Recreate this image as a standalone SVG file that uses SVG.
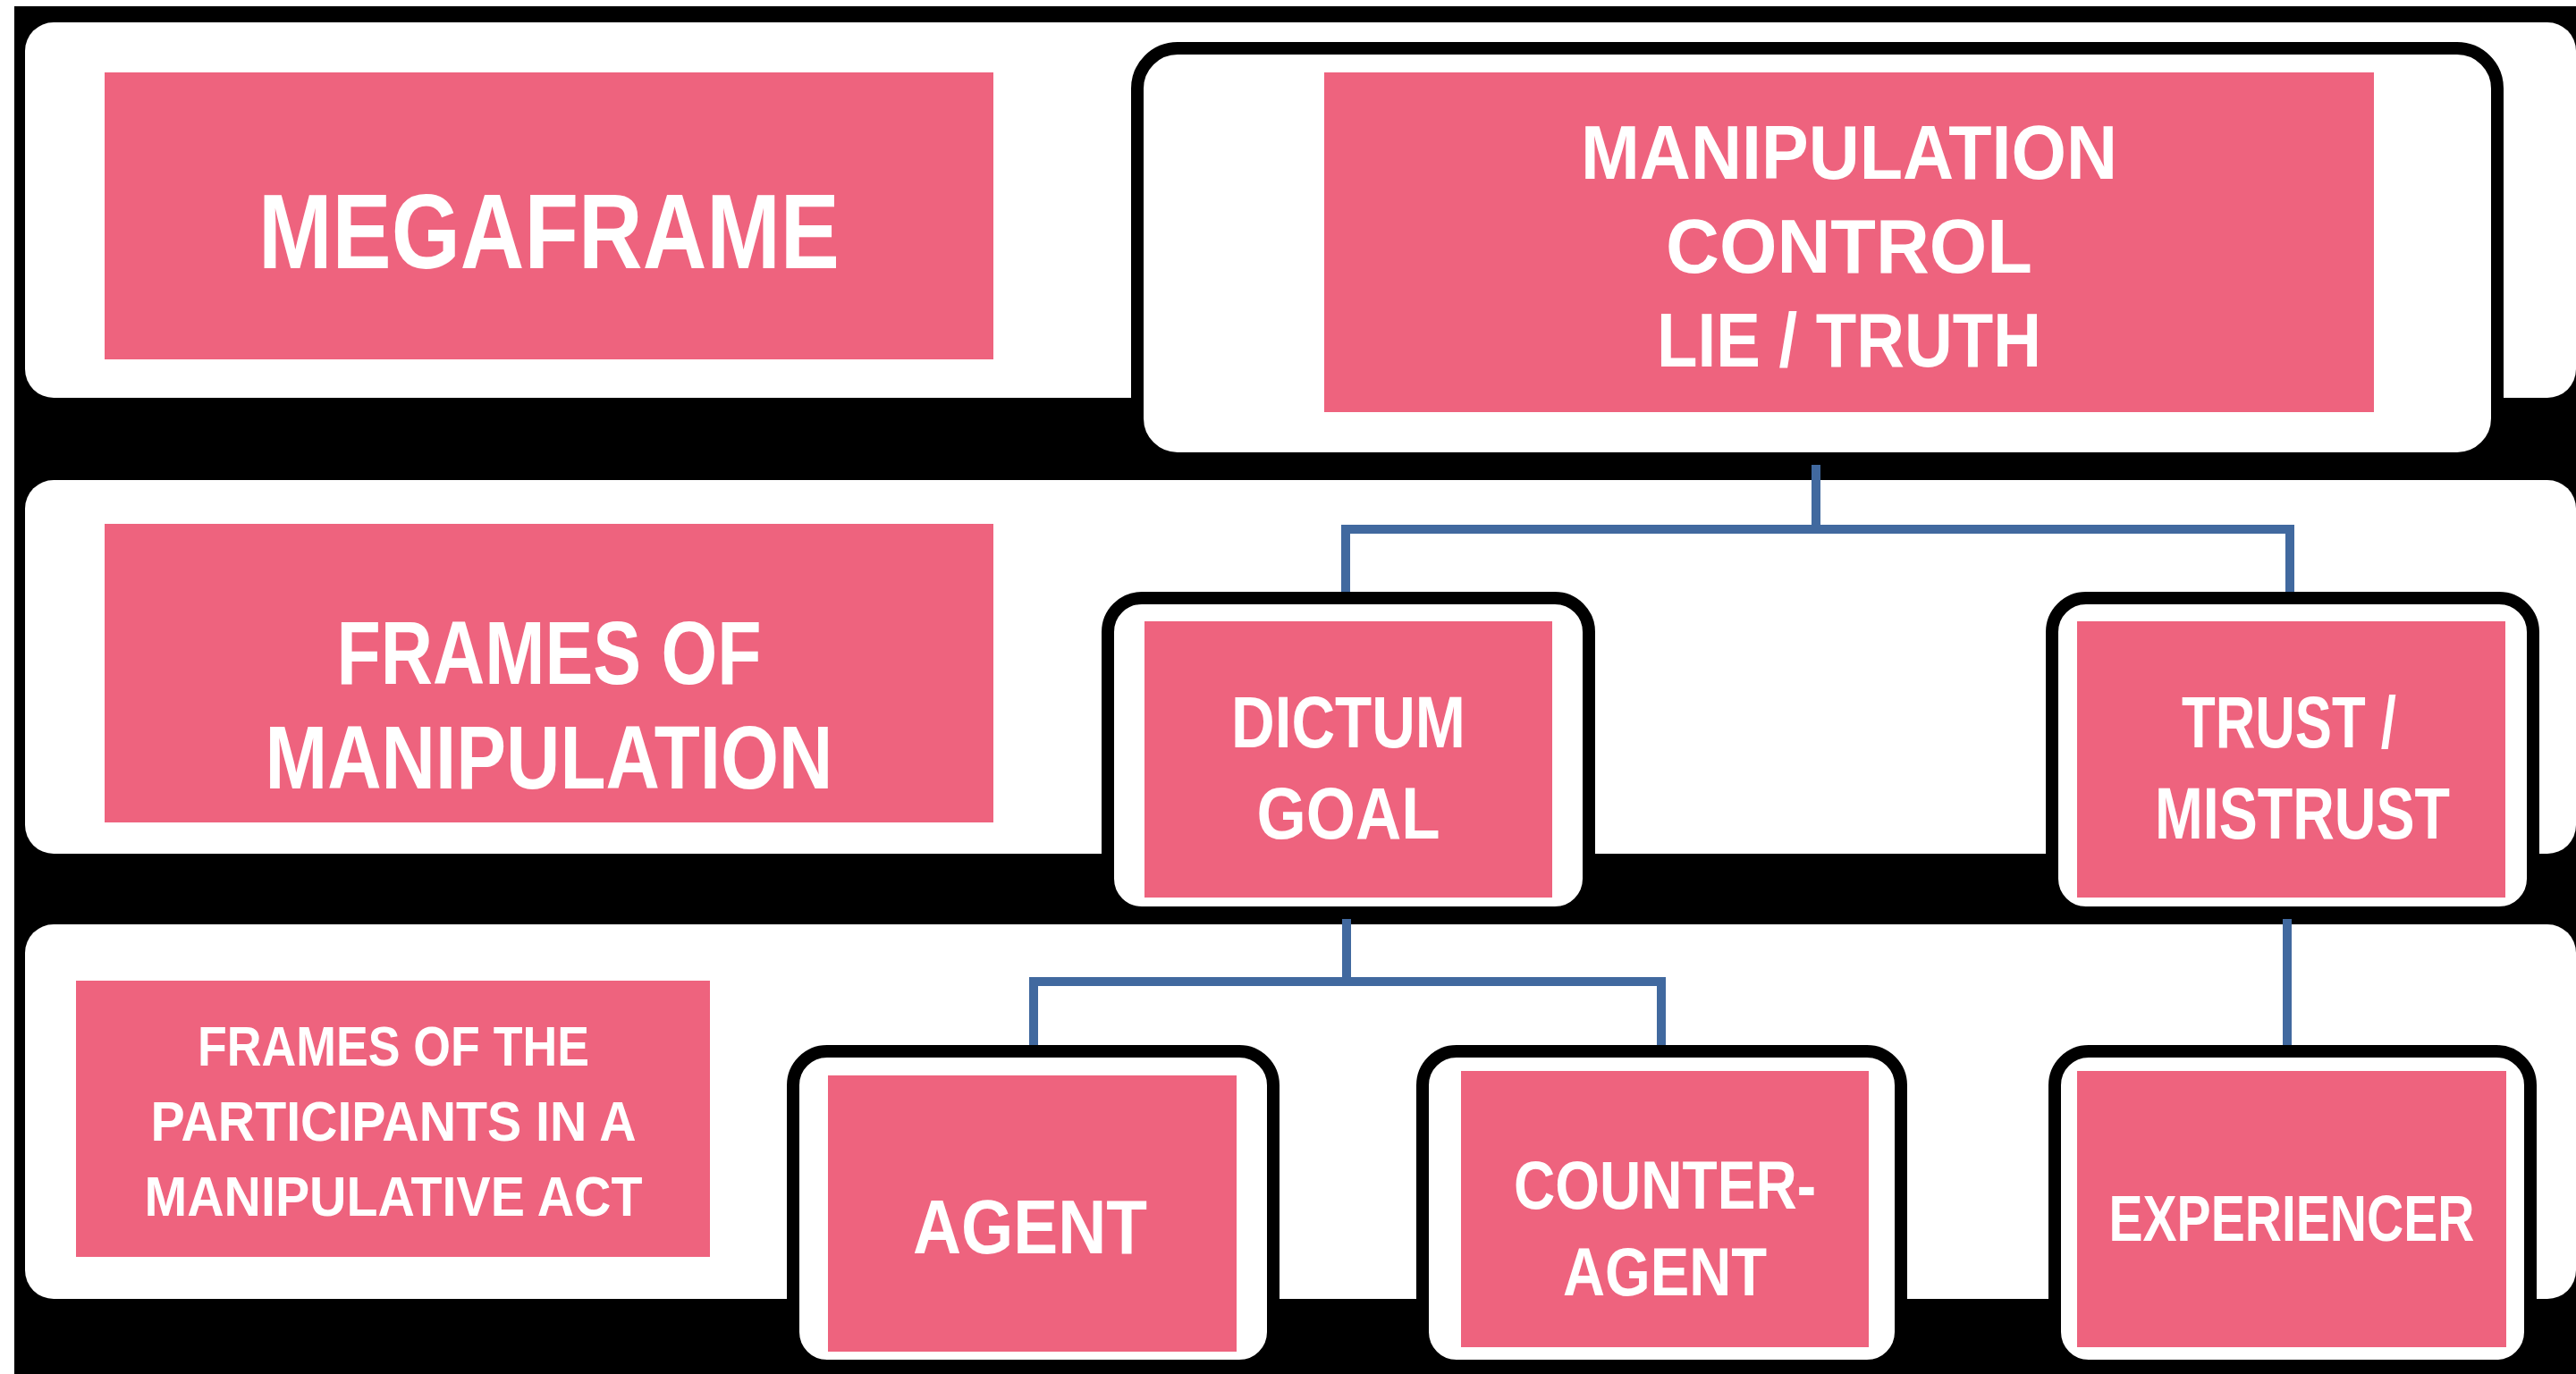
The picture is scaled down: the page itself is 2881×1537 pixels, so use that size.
<svg xmlns="http://www.w3.org/2000/svg" width="2881" height="1537" viewBox="0 0 2881 1537">
<style>
.band{fill:#ffffff}
.frame{fill:#ffffff;stroke:#000000;stroke-width:14}
.box{fill:#EE637E}
.t{font-family:"Liberation Sans",Arial,sans-serif;font-weight:bold;fill:#ffffff;text-anchor:middle}
.conn{stroke:#41699F;stroke-width:10;fill:none;stroke-linejoin:miter}
</style>
<rect x="0" y="0" width="2881" height="1537" fill="#ffffff"/>
<rect x="16" y="7" width="2865" height="1530" fill="#000000"/>
<g id="bands">
<rect class="band" x="28" y="25" width="2853" height="420" rx="32"/>
<rect class="band" x="28" y="537" width="2853" height="418" rx="32"/>
<rect class="band" x="28" y="1034" width="2853" height="419" rx="32"/>
</g>
<g id="connectors">
<path class="conn" d="M2031 515 V592 M1505 662 V592 H2561 V662"/>
<path class="conn" d="M1506 1025 V1098 M1156 1169 V1098 H1858 V1169"/>
<path class="conn" d="M2558 1025 V1169"/>
</g>
<g id="megaframe">
<rect class="box" x="117" y="81" width="994" height="321"/>
<text class="t" x="614" y="300" font-size="118" textLength="650" lengthAdjust="spacingAndGlyphs">MEGAFRAME</text>
</g>
<g id="frames-of-manipulation">
<rect class="box" x="117" y="586" width="994" height="334"/>
<text class="t" x="614" y="765" font-size="100" textLength="475" lengthAdjust="spacingAndGlyphs">FRAMES OF</text>
<text class="t" x="614" y="882" font-size="100" textLength="635" lengthAdjust="spacingAndGlyphs">MANIPULATION</text>
</g>
<g id="frames-participants">
<rect class="box" x="85" y="1097" width="709" height="309"/>
<text class="t" x="440" y="1192" font-size="63" textLength="438" lengthAdjust="spacingAndGlyphs">FRAMES OF THE</text>
<text class="t" x="440" y="1276" font-size="63" textLength="543" lengthAdjust="spacingAndGlyphs">PARTICIPANTS IN A</text>
<text class="t" x="440" y="1360" font-size="63" textLength="557" lengthAdjust="spacingAndGlyphs">MANIPULATIVE ACT</text>
</g>
<g id="manipulation">
<rect class="frame" x="1272" y="54" width="1521" height="459" rx="45"/>
<rect class="box" x="1481" y="81" width="1174" height="380"/>
<text class="t" x="2068" y="200" font-size="86" textLength="600" lengthAdjust="spacingAndGlyphs">MANIPULATION</text>
<text class="t" x="2068" y="305" font-size="86" textLength="410" lengthAdjust="spacingAndGlyphs">CONTROL</text>
<text class="t" x="2068" y="410" font-size="86" textLength="430" lengthAdjust="spacingAndGlyphs">LIE / TRUTH</text>
</g>
<g id="dictum">
<rect class="frame" x="1239" y="669" width="538" height="352" rx="38"/>
<rect class="box" x="1280" y="695" width="456" height="309"/>
<text class="t" x="1508" y="836" font-size="82" textLength="262" lengthAdjust="spacingAndGlyphs">DICTUM</text>
<text class="t" x="1508" y="938" font-size="82" textLength="205" lengthAdjust="spacingAndGlyphs">GOAL</text>
</g>
<g id="trust">
<rect class="frame" x="2295" y="669" width="538" height="352" rx="38"/>
<rect class="box" x="2323" y="695" width="479" height="309"/>
<text class="t" x="2560" y="836" font-size="82" textLength="240" lengthAdjust="spacingAndGlyphs">TRUST /</text>
<text class="t" x="2575" y="938" font-size="82" textLength="330" lengthAdjust="spacingAndGlyphs">MISTRUST</text>
</g>
<g id="agent">
<rect class="frame" x="887" y="1176" width="537" height="352" rx="38"/>
<rect class="box" x="926" y="1203" width="457" height="309"/>
<text class="t" x="1152" y="1402" font-size="86" textLength="262" lengthAdjust="spacingAndGlyphs">AGENT</text>
</g>
<g id="counter-agent">
<rect class="frame" x="1591" y="1176" width="535" height="352" rx="38"/>
<rect class="box" x="1634" y="1198" width="456" height="309"/>
<text class="t" x="1862" y="1352" font-size="76" textLength="338" lengthAdjust="spacingAndGlyphs">COUNTER-</text>
<text class="t" x="1862" y="1449" font-size="76" textLength="228" lengthAdjust="spacingAndGlyphs">AGENT</text>
</g>
<g id="experiencer">
<rect class="frame" x="2298" y="1176" width="532" height="352" rx="38"/>
<rect class="box" x="2323" y="1198" width="480" height="309"/>
<text class="t" x="2563" y="1388" font-size="72" textLength="409" lengthAdjust="spacingAndGlyphs">EXPERIENCER</text>
</g>
</svg>
